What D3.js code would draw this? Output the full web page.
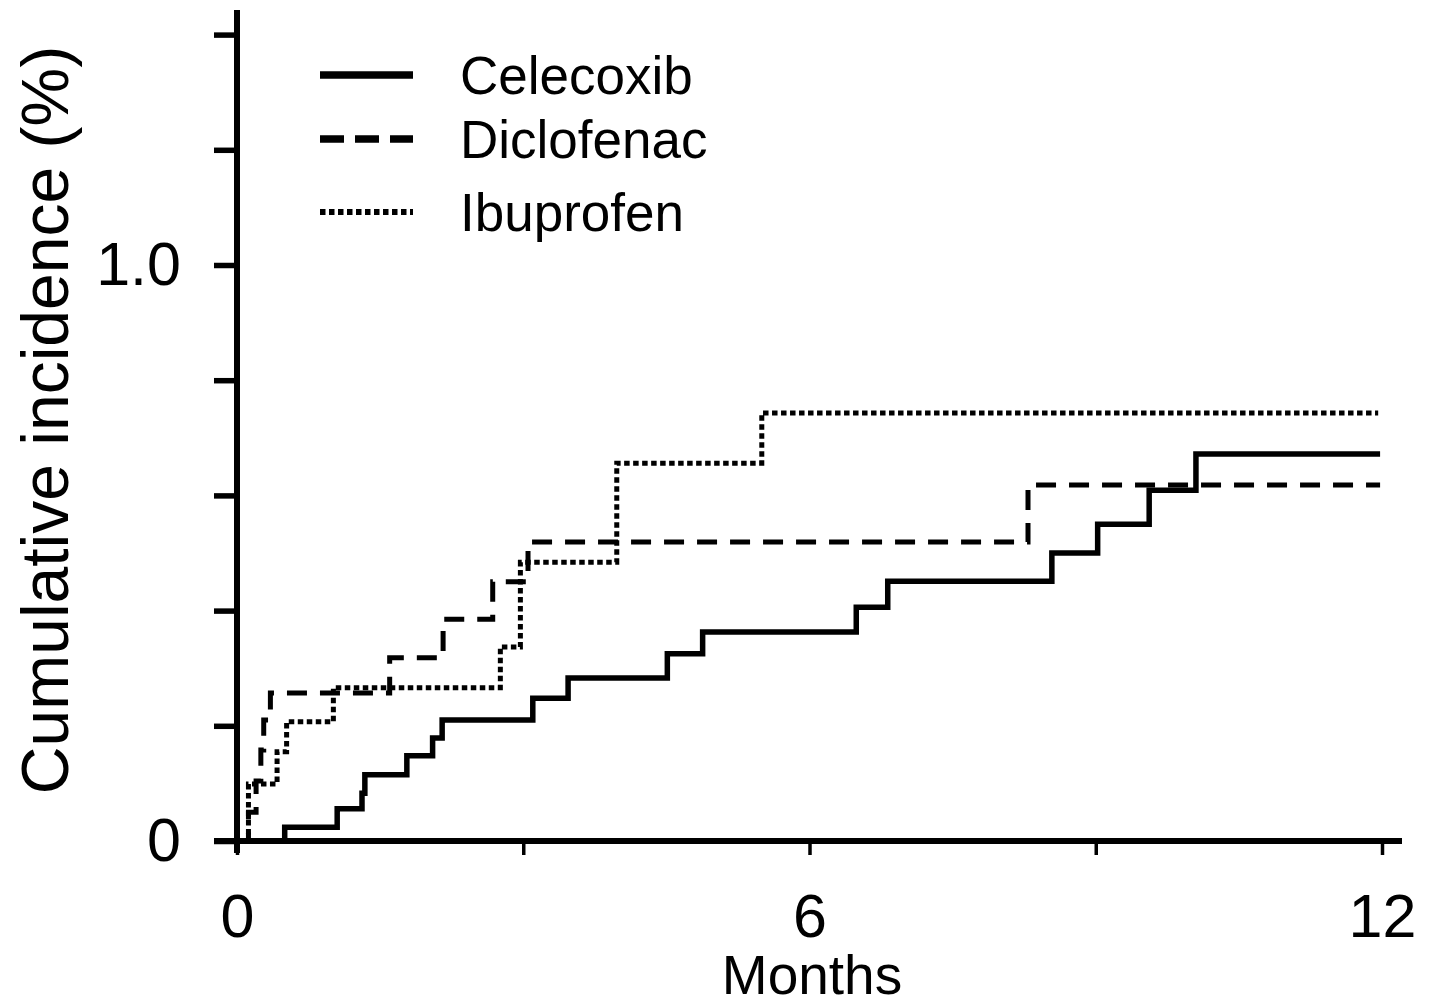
<!DOCTYPE html>
<html lang="en">

<head>
  <meta charset="UTF-8">
  <script src="https://d3js.org/d3.v7.min.js"></script>
  <style>
    html, body {
      margin: 0;
      padding: 0;
      background-color: white;
    }

    svg text {
      font-family: "Liberation Sans", Arial, sans-serif;
      fill: black;
    }
  </style>
</head>

<body>
  <svg id="plot-svg" width="1432" height="1007"></svg>

  <script>
    // step points: months, cumulative incidence (%)
    const celecoxibMonths = [0, 0.50, 1.05, 1.31, 1.34, 1.78, 2.05, 2.15, 3.10, 3.47, 4.51, 4.88, 6.49, 6.82, 8.54, 9.02, 9.56, 10.05, 11.98];
    const celecoxibValues = [0, 0.024, 0.056, 0.083, 0.115, 0.148, 0.179, 0.210, 0.248, 0.283, 0.325, 0.363, 0.406, 0.451, 0.500, 0.550, 0.609, 0.672, 0.672];

    const diclofenacMonths = [0, 0.12, 0.20, 0.25, 0.28, 0.35, 1.60, 2.16, 2.68, 3.05, 8.29, 11.98];
    const diclofenacValues = [0, 0.050, 0.104, 0.158, 0.210, 0.257, 0.318, 0.385, 0.450, 0.519, 0.618, 0.618];

    const ibuprofenMonths = [0, 0.12, 0.42, 0.52, 1.01, 2.76, 2.97, 3.98, 5.50, 11.96];
    const ibuprofenValues = [0, 0.099, 0.155, 0.207, 0.266, 0.337, 0.484, 0.656, 0.743, 0.743];

    const seriesNames = ["Celecoxib", "Diclofenac", "Ibuprofen"];
    const yTicks = [0, 0.2, 0.4, 0.6, 0.8, 1.0, 1.2, 1.4];
    const yTickLabels = { 0: "0", 1: "1.0" };
    const xTicks = [0, 3, 6, 9, 12];
    const xTickLabels = { 0: "0", 6: "6", 12: "12" };

    const svg = d3.select("#plot-svg");

    const x = d3.scaleLinear().domain([0, 12]).range([237, 1382]);
    const y = d3.scaleLinear().domain([0, 1.4]).range([841, 34.6]);

    // y axis
    const leftAxis = d3.axisLeft(y)
      .tickValues(yTicks)
      .tickSize(23)
      .tickPadding(33)
      .tickFormat(d => yTickLabels[d] || "");
    const gy = svg.append("g").attr("transform", `translate(${x(0)}, 0)`).call(leftAxis);
    gy.select(".domain").remove();
    gy.selectAll(".tick line").attr("stroke", "black").attr("stroke-width", 5.5);
    gy.selectAll(".tick text").style("font-size", "61px").attr("font-family", null);

    // x axis
    const bottomAxis = d3.axisBottom(x)
      .tickValues(xTicks)
      .tickSize(14)
      .tickPadding(39)
      .tickFormat(d => xTickLabels[d] || "");
    const gx = svg.append("g").attr("transform", `translate(0, ${y(0)})`).call(bottomAxis);
    gx.select(".domain").remove();
    gx.selectAll(".tick line").attr("stroke", "black").attr("stroke-width", 3.5);
    gx.selectAll(".tick text").style("font-size", "61px").attr("font-family", null);

    // axis lines, running a little past the ends
    svg.append("line")
      .attr("x1", x(0)).attr("x2", x(0))
      .attr("y1", 10).attr("y2", 853)
      .attr("stroke", "black").attr("stroke-width", 6);
    svg.append("line")
      .attr("x1", 214).attr("x2", 1402)
      .attr("y1", y(0)).attr("y2", y(0))
      .attr("stroke", "black").attr("stroke-width", 6);

    // axis titles
    svg.append("text")
      .attr("transform", `translate(68, 420) rotate(-90)`)
      .attr("text-anchor", "middle")
      .style("font-size", "66px")
      .text("Cumulative incidence (%)");

    svg.append("text")
      .attr("x", 812).attr("y", 994)
      .attr("text-anchor", "middle")
      .style("font-size", "55px")
      .text("Months");

    // curves
    const styles = {
      "Celecoxib": null,
      "Diclofenac": "20,13",
      "Ibuprofen": "5.5,3.5"
    };
    const curves = [
      { name: "Celecoxib", months: celecoxibMonths, values: celecoxibValues },
      { name: "Diclofenac", months: diclofenacMonths, values: diclofenacValues },
      { name: "Ibuprofen", months: ibuprofenMonths, values: ibuprofenValues }
    ];

    const stepLine = d3.line()
      .x(d => x(d[0]))
      .y(d => y(d[1]))
      .curve(d3.curveStepAfter);

    for (let c of curves) {
      let pts = c.months.map((m, i) => [m, c.values[i]]);
      svg.append("path")
        .attr("d", stepLine(pts))
        .attr("fill", "none")
        .attr("stroke", "black")
        .attr("stroke-width", c.name === "Celecoxib" ? 5.5 : 5)
        .attr("stroke-dasharray", styles[c.name]);
    }

    // legend
    const legendY = [75, 139, 212];
    const legendDash = { "Celecoxib": null, "Diclofenac": "24,11", "Ibuprofen": "5.5,3.5" };
    seriesNames.forEach((n, i) => {
      svg.append("line")
        .attr("x1", 320).attr("x2", 413)
        .attr("y1", legendY[i]).attr("y2", legendY[i])
        .attr("stroke", "black").attr("stroke-width", n === "Ibuprofen" ? 6 : 7.5)
        .attr("stroke-dasharray", legendDash[n]);
      svg.append("text")
        .attr("x", 460).attr("y", legendY[i] + 19)
        .style("font-size", "53px")
        .text(n);
    });
  </script>
</body>

</html>
